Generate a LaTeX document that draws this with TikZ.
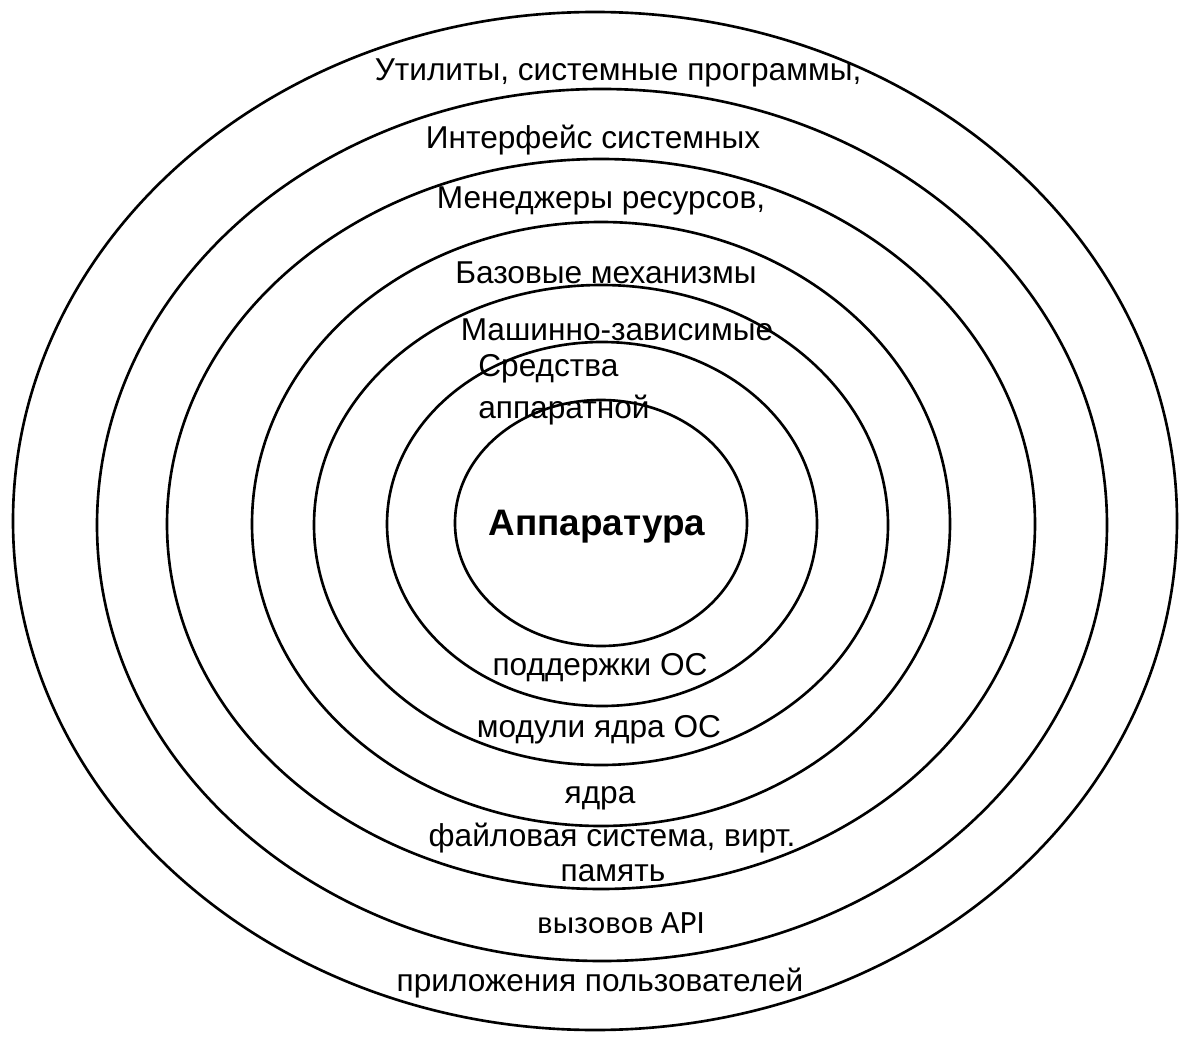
\documentclass[tikz,border=0pt]{standalone}
\usepackage{fontspec}
\setmainfont{Liberation Sans}
\newfontfamily\apifont{Carlito}
\usepackage{tikz}
\usetikzlibrary{positioning}

\tikzset{
    layer/.style={
        black,
        line width=1.5pt
    },
    layertext/.style={
        inner sep=0pt,
        yshift=-0.06cm,
        font=\fontsize{18}{22}\selectfont
    }
}

\begin{document}
\begin{tikzpicture}[
    x=0.02cm,
    y=-0.02cm
]

\useasboundingbox (0,0) rectangle (1180,1037);

% =============================================================
% Concentric layers, outermost first
% =============================================================

\foreach \cx/\cy/\rx/\ry in {
    595/521/582/509,
    602/525/505/436,
    601/524/434/365,
    601/524/349/302,
    601/525/287/240,
    602/524/215/182,
    601/523/146/123
}{
    \draw[layer]
    (\cx,\cy) ellipse [x radius=\rx, y radius=\ry];
}

% Upper labels
\node[layertext] (util) at (618,70)
{Утилиты, системные программы,};

\node[layertext] (iface) at (593,137)
{Интерфейс системных};

\node[layertext] (mgr) at (601,198)
{Менеджеры ресурсов,};

\node[layertext] (base) at (606,270)
{Базовые механизмы};

\node[layertext] (mach) at (617,327)
{Машинно-зависимые};

\node[
    layertext,
    anchor=west
] (hwa) at (478,366)
{Средства};

\node[
    layertext,
    anchor=west
] (hwb) at (478,407)
{аппаратной};

% Core
\node[
    inner sep=0pt,
    yshift=-0.04cm,
    font=\fontsize{21}{25}\selectfont\bfseries
] (core) at (597,525)
{Аппаратура};

% Lower labels
\node[layertext] (hwc) at (600,665)
{поддержки ОС};

\node[layertext] (mods) at (599,727)
{модули ядра ОС};

\node[layertext] (kern) at (600,795)
{ядра};

\node[layertext] (fs) at (612,835)
{файловая система, вирт.};

\node[layertext] (mem) at (613,870)
{память};

\node[
    layertext,
    font=\apifont\fontsize{18.5}{22}\selectfont
] (api) at (621,920)
{вызовов API};

\node[layertext] (apps) at (600,980)
{приложения пользователей};

\end{tikzpicture}
\end{document}
